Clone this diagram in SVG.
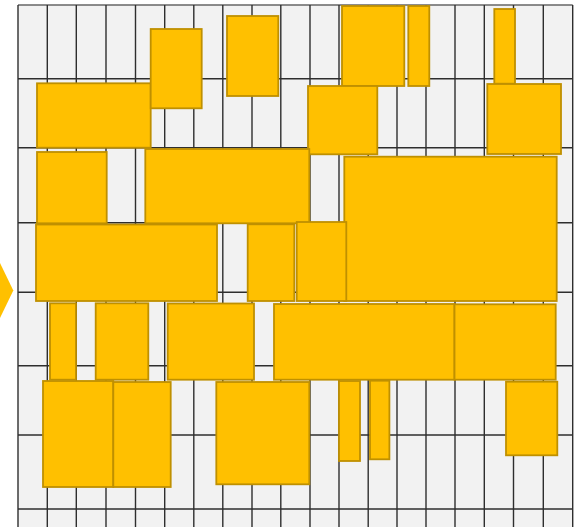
<svg xmlns="http://www.w3.org/2000/svg" width="581" height="527" viewBox="0 0 581 527">
<style>
.grid line{stroke:#2e2e2e;stroke-width:1.4}
.n rect{fill:#FFC000;stroke:#BF9000;stroke-width:1.8}
</style>
<rect x="0" y="0" width="581" height="527" fill="#ffffff"/>
<g id="grid" class="grid">
<rect x="18" y="5" width="554.7" height="530" fill="#f2f2f2"/>
<line x1="18" y1="5" x2="572.7" y2="5" style="stroke:#666;stroke-width:1.6"/>
<line x1="18" y1="78.7" x2="572.7" y2="78.7"/>
<line x1="18" y1="147.7" x2="572.7" y2="147.7"/>
<line x1="18" y1="222.7" x2="572.7" y2="222.7"/>
<line x1="18" y1="292.3" x2="572.7" y2="292.3"/>
<line x1="18" y1="365.7" x2="572.7" y2="365.7"/>
<line x1="18" y1="435" x2="572.7" y2="435"/>
<line x1="18" y1="509" x2="572.7" y2="509"/>
<line x1="18" y1="5" x2="18" y2="527"/>
<line x1="47.3" y1="5" x2="47.3" y2="527"/>
<line x1="76.3" y1="5" x2="76.3" y2="527"/>
<line x1="106" y1="5" x2="106" y2="527"/>
<line x1="135.5" y1="5" x2="135.5" y2="527"/>
<line x1="164.7" y1="5" x2="164.7" y2="527"/>
<line x1="193.8" y1="5" x2="193.8" y2="527"/>
<line x1="222.8" y1="5" x2="222.8" y2="527"/>
<line x1="252" y1="5" x2="252" y2="527"/>
<line x1="280.8" y1="5" x2="280.8" y2="527"/>
<line x1="310" y1="5" x2="310" y2="527"/>
<line x1="339" y1="5" x2="339" y2="527"/>
<line x1="368.2" y1="5" x2="368.2" y2="527"/>
<line x1="397" y1="5" x2="397" y2="527"/>
<line x1="426" y1="5" x2="426" y2="527"/>
<line x1="455" y1="5" x2="455" y2="527"/>
<line x1="484.3" y1="5" x2="484.3" y2="527"/>
<line x1="513.5" y1="5" x2="513.5" y2="527"/>
<line x1="543.3" y1="5" x2="543.3" y2="527"/>
<line x1="572.7" y1="5" x2="572.7" y2="527"/>
</g>
<g id="arrow"><polygon points="-12,263 0,263 13.3,290.5 0,318 -12,318" fill="#FFC000"/></g>
<g class="n">
<g id="nA"><rect x="37" y="83.3" width="113.7" height="64.4"/></g>
<g id="nB"><rect x="150.7" y="29" width="51" height="79.3"/></g>
<g id="nE"><rect x="227" y="16" width="51.3" height="80"/></g>
<g id="nF"><rect x="342" y="6" width="62.3" height="80"/></g>
<g id="nI"><rect x="408.3" y="6" width="21" height="80"/></g>
<g id="nJ"><rect x="494.3" y="9" width="20.7" height="74.7"/></g>
<g id="nG"><rect x="308" y="86" width="69.3" height="68.3"/></g>
<g id="nK"><rect x="487.3" y="84" width="73.7" height="70"/></g>
<g id="nC"><rect x="37" y="152" width="69.7" height="71.3"/></g>
<g id="nD"><rect x="145.3" y="149" width="164" height="74.3"/></g>
<g id="nH"><rect x="344.3" y="156.7" width="212.4" height="144.3"/></g>
<g id="nL"><rect x="36" y="224.5" width="181" height="76.5"/></g>
<g id="nP"><rect x="247.7" y="224.3" width="46.6" height="76.7"/></g>
<g id="nQ"><rect x="296.7" y="222" width="49.6" height="79"/></g>
<g id="nM"><rect x="50" y="303.3" width="26" height="76.4"/></g>
<g id="nN"><rect x="95.7" y="303.3" width="52.6" height="76.4"/></g>
<g id="nO"><rect x="167.7" y="303.5" width="86.3" height="76.2"/></g>
<g id="nR"><rect x="274" y="304" width="180.5" height="75.7"/></g>
<g id="nS"><rect x="454.5" y="304.3" width="101.2" height="75.4"/></g>
<g id="nT"><rect x="43" y="381" width="70.3" height="106"/></g>
<g id="nU"><rect x="113.3" y="382" width="57.4" height="105"/></g>
<g id="nV"><rect x="216.3" y="382" width="93" height="102.3"/></g>
<g id="nW"><rect x="339" y="381" width="21" height="80"/></g>
<g id="nX"><rect x="370" y="380.7" width="19.4" height="78.6"/></g>
<g id="nY"><rect x="506" y="381.7" width="51.3" height="73.6"/></g>
</g>
</svg>
